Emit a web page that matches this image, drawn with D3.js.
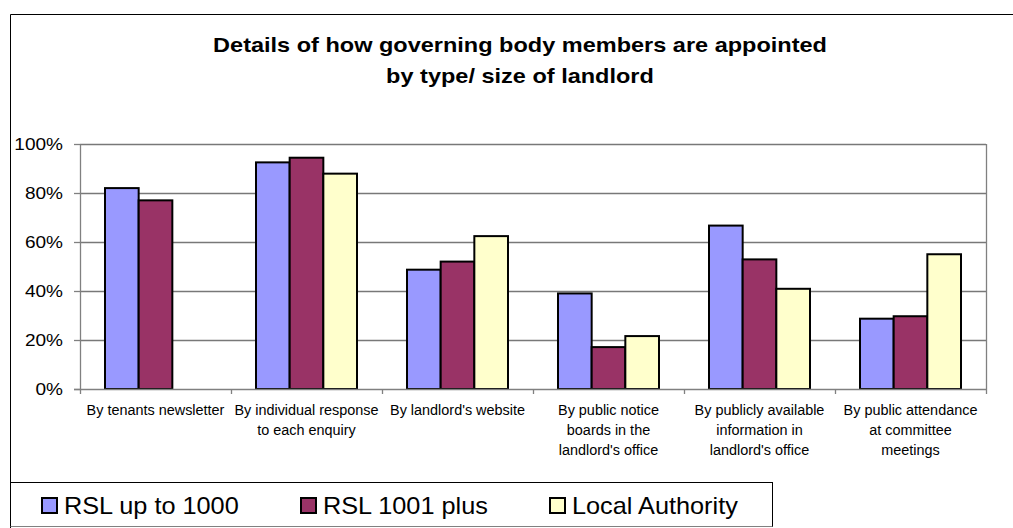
<!DOCTYPE html>
<html>
<head>
<meta charset="utf-8">
<script src="https://cdn.jsdelivr.net/npm/d3@7"></script>
<style>
  html, body { margin: 0; padding: 0; background: #fff; }
  svg { display: block; font-family: Arial, "Liberation Sans", sans-serif; }
</style>
</head>
<body>
<svg id="chart" width="1013" height="528"></svg>
<script>
// Appointment methods, one group of bars per method
const categories = [
  "By tenants newsletter",
  "By individual response to each enquiry",
  "By landlord's website",
  "By public notice boards in the landlord's office",
  "By publicly available information in landlord's office",
  "By public attendance at committee meetings"
];
// Wrapped category labels as printed under the axis
const categoryLines = [
  ["By tenants newsletter"],
  ["By individual response", "to each enquiry"],
  ["By landlord's website"],
  ["By public notice", "boards in the", "landlord's office"],
  ["By publicly available", "information in", "landlord's office"],
  ["By public attendance", "at committee", "meetings"]
];
const seriesNames = ["RSL up to 1000", "RSL 1001 plus", "Local Authority"];
const seriesColors = ["#9999FF", "#993366", "#FFFFCC"];
// Share of landlords using each method (percent); null = no bar
const rslSmall = [82, 92.5, 48.7, 39, 66.7, 28.7];
const rslLarge = [77, 94.4, 52, 17.1, 52.9, 29.7];
const localAuthority = [null, 87.9, 62.4, 21.6, 40.9, 55];
const yTicks = [0, 20, 40, 60, 80, 100];

const seriesValues = [rslSmall, rslLarge, localAuthority];

const svg = d3.select("#chart");
const plot = { left: 80, right: 986, top: 144, bottom: 389 };

// Text is set slightly wide; place a label at (x, y) stretched horizontally by sx
function wideText(parent, x, y, sx) {
  return parent.append("text")
    .attr("transform", `translate(${x},${y}) scale(${sx},1)`)
    .attr("x", 0).attr("y", 0);
}

// Outer chart frame (left and top edges visible)
svg.append("path")
  .attr("d", "M10.5,528 V14.5 H1013")
  .attr("fill", "none").attr("stroke", "#000").attr("stroke-width", 1);

// Title
["Details of how governing body members are appointed", "by type/ size of landlord"]
  .forEach((line, j) => {
    wideText(svg, 520, 52 + j * 31, 1.12)
      .attr("text-anchor", "middle")
      .attr("font-weight", "bold")
      .attr("font-size", 21)
      .attr("fill", "#000")
      .text(line);
  });

const x0 = d3.scaleBand().domain(categories).range([plot.left, plot.right]).paddingInner(0).paddingOuter(0);
const bw = x0.bandwidth();
// Bars take 2/3 of each band; gap split evenly on both sides
const groupW = bw * (101 / 151);
const x1 = d3.scaleBand().domain(seriesNames).range([0, groupW]).padding(0);
const y = d3.scaleLinear().domain([0, 100]).range([plot.bottom, plot.top]);

// Gridlines
svg.append("g").selectAll("line")
  .data(yTicks.filter(t => t > 0))
  .join("line")
  .attr("x1", plot.left).attr("x2", plot.right)
  .attr("y1", d => Math.round(y(d)) + 0.5).attr("y2", d => Math.round(y(d)) + 0.5)
  .attr("stroke", "#787878").attr("stroke-width", 1.3);

// Right edge of plot area
svg.append("line")
  .attr("x1", plot.right + 0.5).attr("x2", plot.right + 0.5)
  .attr("y1", plot.top).attr("y2", plot.bottom)
  .attr("stroke", "#808080").attr("stroke-width", 1.3);

// Bars
const groups = svg.append("g").selectAll("g")
  .data(categories)
  .join("g")
  .attr("transform", c => `translate(${x0(c) + (bw - groupW) / 2},0)`);

groups.selectAll("rect")
  .data((c, i) => seriesNames.map((s, k) => ({ s, k, v: seriesValues[k][i] })).filter(d => d.v != null))
  .join("rect")
  .attr("x", d => x1(d.s))
  .attr("width", x1.bandwidth())
  .attr("y", d => y(d.v))
  .attr("height", d => y(0) - y(d.v))
  .attr("fill", d => seriesColors[d.k])
  .attr("stroke", "#000")
  .attr("stroke-width", 2);

// Y axis
const yAxis = svg.append("g")
  .attr("transform", `translate(${plot.left},0)`)
  .call(d3.axisLeft(y).tickValues(yTicks).tickFormat(d => d + "%").tickSize(6).tickSizeOuter(0));
yAxis.select(".domain").attr("stroke", "#808080").attr("stroke-width", 1.3);
yAxis.selectAll(".tick line").attr("stroke", "#808080").attr("stroke-width", 1.3);
yAxis.selectAll(".tick text")
  .attr("font-size", 17).attr("font-family", "Arial, 'Liberation Sans', sans-serif")
  .attr("fill", "#000")
  .attr("transform", "translate(-17,0) scale(1.12,1)")
  .attr("x", 0).attr("dy", "0.35em");

// X axis baseline with boundary ticks
const xAxisG = svg.append("g");
xAxisG.append("line")
  .attr("x1", plot.left - 6).attr("x2", plot.right)
  .attr("y1", plot.bottom + 0.5).attr("y2", plot.bottom + 0.5)
  .attr("stroke", "#808080").attr("stroke-width", 1.3);
const boundaries = categories.map(c => x0(c)).concat([plot.right]);
xAxisG.selectAll("line.tk")
  .data(boundaries)
  .join("line").attr("class", "tk")
  .attr("x1", d => Math.round(d) + 0.5).attr("x2", d => Math.round(d) + 0.5)
  .attr("y1", plot.bottom).attr("y2", plot.bottom + 5)
  .attr("stroke", "#808080").attr("stroke-width", 1.3);

// Category labels
const lblG = svg.append("g");
categories.forEach((c, i) => {
  const cx = x0(c) + bw / 2;
  categoryLines[i].forEach((line, j) => {
    wideText(lblG, cx, 415 + j * 20, 1.03)
      .attr("text-anchor", "middle")
      .attr("font-size", 14)
      .attr("fill", "#000")
      .text(line);
  });
});

// Legend
const legend = svg.append("g");
legend.append("rect")
  .attr("x", 10.5).attr("y", 482.5).attr("width", 762).attr("height", 44)
  .attr("fill", "#fff").attr("stroke", "#000").attr("stroke-width", 1);
legend.append("line")
  .attr("x1", 10.5).attr("x2", 772.5).attr("y1", 526.5).attr("y2", 526.5)
  .attr("stroke", "#808080").attr("stroke-width", 1);
const legendX = [41, 300, 549];
seriesNames.forEach((s, k) => {
  legend.append("rect")
    .attr("x", legendX[k] + 1).attr("y", 498).attr("width", 15).attr("height", 15)
    .attr("fill", seriesColors[k]).attr("stroke", "#000").attr("stroke-width", 2);
  wideText(legend, legendX[k] + 23, 514, 1.1)
    .attr("font-size", 23).attr("fill", "#000")
    .text(s);
});
</script>
</body>
</html>
